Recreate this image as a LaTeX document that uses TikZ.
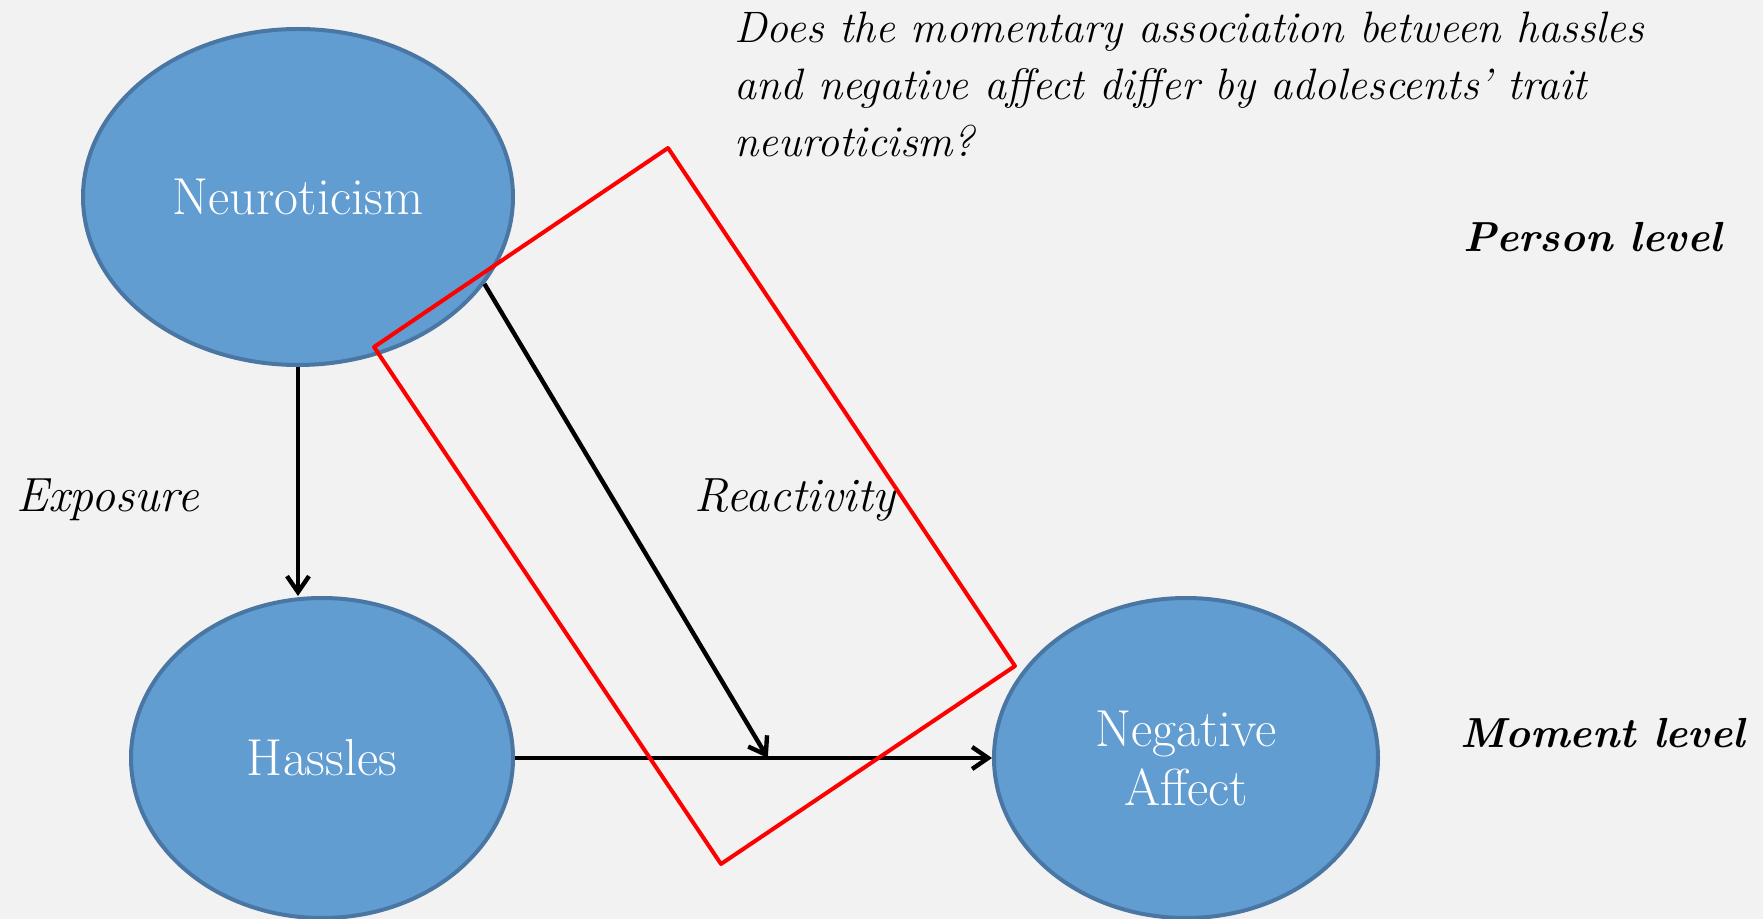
\documentclass[tikz,border=0pt]{standalone}
\usetikzlibrary{arrows.meta,positioning,shapes.geometric,calc}
\definecolor{slidebg}{HTML}{F2F2F2}
\definecolor{constructfill}{HTML}{629DD1}
\definecolor{constructline}{HTML}{4A76A3}
\tikzset{
	>={Straight Barb[length=8pt,width=11pt]},
	construct/.style={
		ellipse,
		draw=constructline,
		fill=constructfill,
		line width=2pt,
		inner sep=0pt,
		text=white,
		align=center,
		font=\fontsize{26}{29.5}\selectfont},
	flowedge/.style = {
		->,
		line width=2.2pt
	},
	pathlabel/.style={
		anchor=base west,
		inner sep=0pt,
		font=\fontsize{24}{29}\selectfont\itshape},
	levellabel/.style={
		anchor=base west,
		inner sep=0pt,
		font=\fontsize{21}{29}\selectfont\bfseries\itshape},
	question/.style={
		anchor=base west,
		inner sep=0pt,
		align=left,
		font=\fontsize{22}{28.5}\selectfont\itshape},
	focusbox/.style={
		draw=red,
		line width=2pt,
		line join=round}
}

\begin{document}
\begin{tikzpicture}[x=0.5pt, y=-0.5pt]

    % slide background
    \fill[slidebg] (0,0) rectangle (1763,919);
    \useasboundingbox (0,0) rectangle (1763,919);

    \node[construct, minimum width=215pt, minimum height=168pt] (NEU) at (298,197) {Neuroticism};
    \node[construct, minimum width=191pt, minimum height=160pt] (HAS) at (322,758) {Hassles};
    \node[construct, minimum width=192pt, minimum height=160pt] (NA) at (1186,758) {Negative\\ Affect};

    \coordinate (MOD) at ($(HAS.east)!0.53!(NA.west)$);

    \draw[flowedge] (NEU.south) -- (NEU.south |- HAS.north);
    \draw[flowedge] (HAS.east) -- (NA.west);
    \draw[flowedge] (NEU.-25) -- (MOD);

    \node[pathlabel] (EXP) at (16,512) {Exposure};
    \node[pathlabel] (REA) at (694,512) {Reactivity};

    \node[levellabel] (PL) at (1463,252) {Person level};
    \node[levellabel] (ML) at (1460,747) {Moment level};

    % base anchor sits on the last line
    \node[question] (Q) at (734,157) {Does the momentary association between hassles\\ and negative affect differ by adolescents' trait\\ neuroticism?};

    % highlight of the cross-level interaction
    \draw[focusbox] (668,148) -- (1015,666) -- (721,864) -- (374,347) -- cycle;

\end{tikzpicture}
\end{document}
